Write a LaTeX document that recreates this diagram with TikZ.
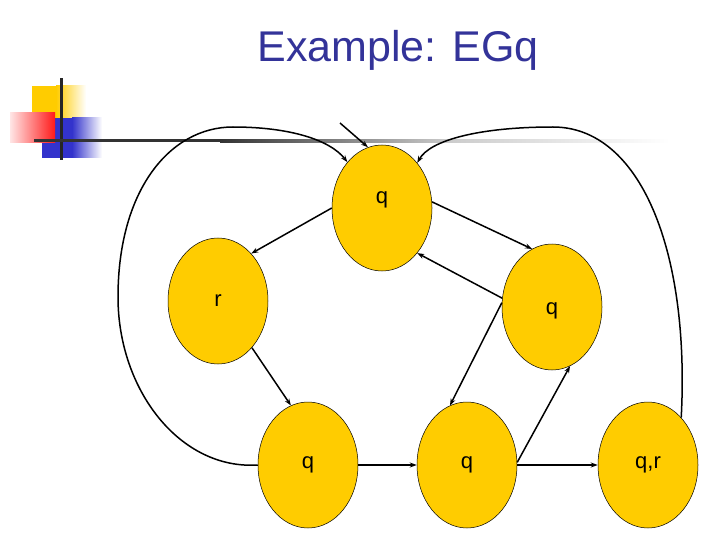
\documentclass[tikz,border=0pt]{standalone}
\usepackage{fontspec}
\setmainfont{Liberation Sans}
\usepackage{tikz}
\usetikzlibrary{arrows.meta,shapes.geometric}
\definecolor{gold}{HTML}{FFCC00}
\definecolor{titleblue}{HTML}{333399}
\definecolor{logoblue}{HTML}{3333CC}

\begin{document}
\begin{tikzpicture}[x=1pt,y=-1pt,line width=1.5pt,
  stnode/.style={ellipse,draw=black,line width=0.5pt,fill=gold,minimum width=100pt,minimum height=126pt,inner sep=0pt,font=\fontsize{22}{26}\selectfont},
  edge/.style={-{Stealth[length=7pt,width=5pt]}}]
\useasboundingbox (0,0) rectangle (720,540);
%\draw[help lines] (0,0) grid[step=20] (720,540);
\node[text=titleblue,font=\fontsize{43}{50}\selectfont] (title) at (398,50){Example: EGq};

% logo in the corner
\fill[gold] (32,86) rectangle (56,118);
\shade[left color=gold,right color=white] (56,86) rectangle (86,118);
\fill[logoblue] (42,118) rectangle (72,158);
\shade[left color=logoblue,right color=white] (72,118) rectangle (102,158);
\shade[left color=red!10,right color=red!90] (10,113) rectangle (55,143);
\fill[black!85] (59.5,78) rectangle (62.5,160);
\fill[black!80] (34,139.5) rectangle (220,142.5);
\shade[left color=black!80,right color=black!20] (220,139.5) rectangle (450,142.5);
\shade[left color=black!20,right color=white] (450,139.5) rectangle (670,142.5);

\node[stnode,text depth=20pt] (qtop) at (382,208){q};
\node[stnode] (rl) at (218,301){r};
\node[stnode,text height=20pt] (qr) at (552,307){q};
\node[stnode] (qbl) at (308,465){q};
\node[stnode] (qbm) at (467,465){q};
\node[stnode] (qrbr) at (648,465){q,r};
\coordinate (init) at (340,123);

\draw[edge] (init) to (qtop.103);
\draw[edge] (qtop.180) to (rl.55);
\draw[edge] (qtop.7) to (qr.109);
\draw[edge] (qr.170) to (qtop.-52);
\draw[edge] (qr.175) to (qbm.106);
\draw[edge] (rl.-54) to (qbl.106);
\draw[edge] (qbl.east) to (qbm.west);
\draw[edge] (qbm.east) to (qrbr.west);
\draw[edge] (qbm.3) to (qr.-73);
\draw[edge] (qbl.180) .. controls (180,470) and (118,390) .. (118,297)
  .. controls (118,190) and (170,127) .. (233,127)
  .. controls (290,127) and (330,140) .. (qtop.127);
\draw[edge] (qrbr.55) .. controls (690,250) and (640,127) .. (553,127)
  .. controls (480,127) and (430,140) .. (qtop.52);

\end{tikzpicture}
\end{document}
